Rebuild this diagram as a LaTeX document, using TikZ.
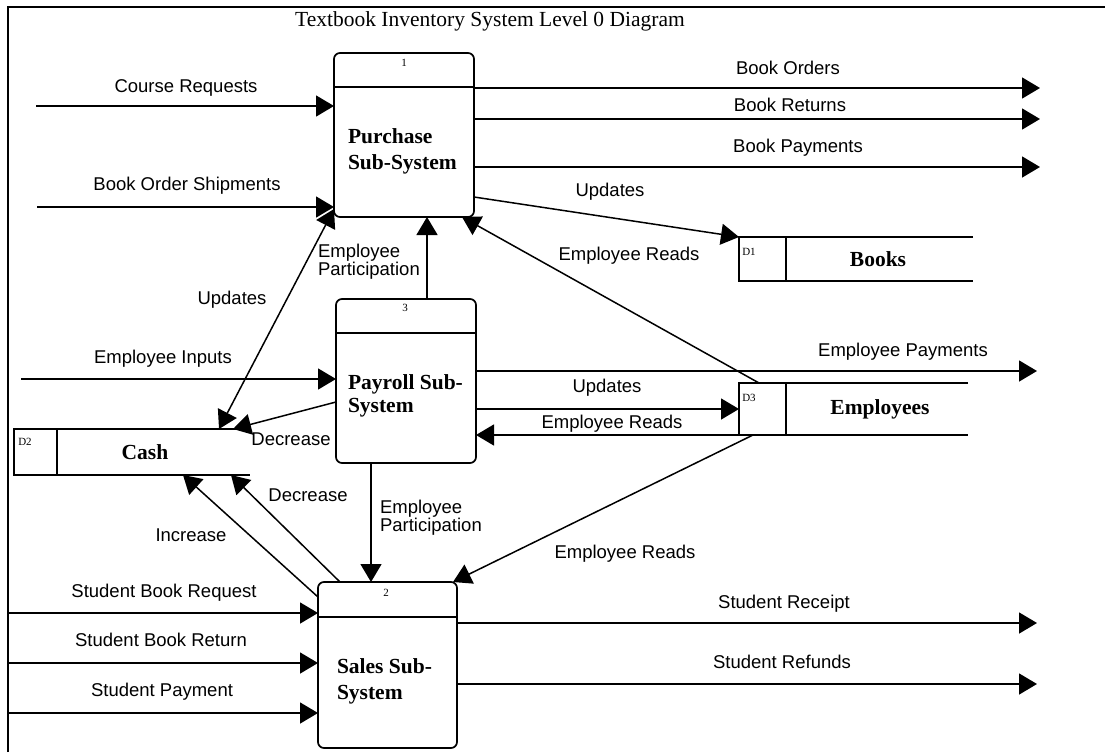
\documentclass[tikz,border=0pt]{standalone}
\usepackage{fontspec}
\setmainfont{Liberation Serif}
\newfontfamily\labfont{Liberation Sans}
\usetikzlibrary{arrows.meta,calc}
\begin{document}
\begin{tikzpicture}[x=1pt,y=-1pt,
  every node/.style={inner sep=0pt,outer sep=0pt},
  proc/.style={draw,line width=1.7pt,rounded corners=6pt},
  lab/.style={font=\labfont\fontsize{18.5}{17}\selectfont},
  pname/.style={font=\bfseries\fontsize{21.5}{26}\selectfont,align=left,anchor=west},
  sname/.style={font=\bfseries\fontsize{21.5}{25}\selectfont},
  num/.style={font=\fontsize{11}{11}\selectfont},
  flow/.style={line width=1.5pt,-{Triangle[length=18pt,width=21pt]}},
  flow2/.style={line width=1.5pt,{Triangle[length=18pt,width=21pt]}-{Triangle[length=18pt,width=21pt]}},
  line/.style={line width=1.7pt}]
\useasboundingbox (0,0) rectangle (1105,752);
\fill[white] (0,0) rectangle (1105,752);
% frame
\draw[line width=1.2pt] (8,752) -- (8,7) -- (1105,7);
\node[font=\fontsize{21.5}{22}\selectfont] (title) at (490,21) {Textbook Inventory System Level 0 Diagram};

% processes
\node[proc,minimum width=140pt,minimum height=164pt] (p1) at (404,135) {};
\draw[line] (p1.west |- 0,87) -- (p1.east |- 0,87);
\node[num] (n1) at (404,63) {1};
\node[pname] (t1) at (348,151) {Purchase\\Sub-System};

\node[proc,minimum width=140pt,minimum height=164pt] (p3) at (406,381) {};
\draw[line] (p3.west |- 0,333) -- (p3.east |- 0,333);
\node[num] (n3) at (405,308) {3};
\node[pname,font=\bfseries\fontsize{21.5}{23}\selectfont] (t3) at (348,396) {Payroll Sub-\\System};

\node[proc,minimum width=139pt,minimum height=166pt] (p2) at (387.5,665) {};
\draw[line] (p2.west |- 0,617) -- (p2.east |- 0,617);
\node[num] (n2) at (386,593) {2};
\node[pname] (t2) at (337,681) {Sales Sub-\\System};

% data stores
\node[minimum width=234pt,minimum height=44pt] (d1) at (856,259) {};
\draw[line] (d1.north east) -- (d1.north west) -- (d1.south west) -- (d1.south east);
\draw[line] ([xshift=47pt]d1.north west) -- ([xshift=47pt]d1.south west);
\node[num] (d1n) at (749,252) {D1};
\node[sname] (d1t) at (878,259) {Books};

\node[minimum width=229pt,minimum height=52pt] (d3) at (853.5,409) {};
\draw[line] (d3.north east) -- (d3.north west) -- (d3.south west) -- (d3.south east);
\draw[line] ([xshift=47pt]d3.north west) -- ([xshift=47pt]d3.south west);
\node[num] (d3n) at (749,398) {D3};
\node[sname] (d3t) at (880,409) {Employees};

\node[minimum width=236pt,minimum height=46pt] (d2) at (132,452) {};
\draw[line] (d2.north east) -- (d2.north west) -- (d2.south west) -- (d2.south east);
\draw[line] ([xshift=43pt]d2.north west) -- ([xshift=43pt]d2.south west);
\node[num] (d2n) at (25,442) {D2};
\node[sname] (d2t) at (145,452) {Cash};

% free ends
\coordinate (cr) at (36,106);
\coordinate (bos) at (37,207);
\coordinate (bo) at (1040,88);
\coordinate (br) at (1040,119);
\coordinate (bp) at (1040,167);
\coordinate (ei) at (21,379);
\coordinate (ep) at (1037,371);
\coordinate (sbq) at (9,613);
\coordinate (sbr) at (9,663);
\coordinate (sp) at (9,713);
\coordinate (sr) at (1037,623);
\coordinate (sf) at (1037,684);

% purchase flows
\draw[flow] (cr) -- (cr -| p1.west);
\node[lab] (l1) at (186,88) {Course Requests};
\draw[flow] (bos) -- (bos -| p1.west);
\node[lab] (l2) at (187,186) {Book Order Shipments};
\draw[flow] (p1.east |- bo) -- (bo);
\node[lab] (l3) at (788,68) {Book Orders};
\draw[flow] (p1.east |- br) -- (br);
\node[lab] (l4) at (790,105) {Book Returns};
\draw[flow] (p1.east |- bp) -- (bp);
\node[lab] (l5) at (798,148) {Book Payments};
\draw[flow] ([yshift=20pt]p1.south east) -- (d1.north west);
\node[lab] (l6) at (610,192) {Updates};
\draw[flow] ([xshift=20pt]d3.north west) -- ([xshift=-12pt]p1.south east);
\node[lab] (l7) at (629,256) {Employee Reads};
\draw[flow2] ([yshift=8pt]p1.south west) -- ([xshift=205pt]d2.north west);
\node[lab] (l8) at (232,300) {Updates};
\draw[flow] ([xshift=21pt]p3.north) -- ([xshift=23pt]p1.south);
\node[lab,align=left,anchor=west] (l9) at (318,262) {Employee\\Participation};

% payroll flows
\draw[flow] (ei) -- (ei -| p3.west);
\node[lab] (l10) at (163,359) {Employee Inputs};
\draw[flow] ([yshift=-21pt]p3.west) -- ([xshift=219pt]d2.north west);
\node[lab] (l11) at (291,439) {Decrease};
\draw[flow] (p3.east |- ep) -- (ep);
\node[lab] (l12) at (903,352) {Employee Payments};
\draw[flow] (p3.east |- d3.west) -- (d3.west);
\node[lab] (l13) at (607,388) {Updates};
\draw[flow] (d3.south west) -- (p3.east |- d3.south west);
\node[lab] (l14) at (612,424) {Employee Reads};
\draw[flow] ([xshift=14pt]d3.south west) -- ([xshift=-4pt]p2.north east);
\node[lab] (l15) at (625,554) {Employee Reads};
\draw[flow] ([xshift=-35pt]p3.south) -- ([xshift=-16.5pt]p2.north);
\node[lab,align=left,anchor=west] (l16) at (380,518) {Employee\\Participation};

% sales flows
\draw[flow] ([yshift=-15pt]p2.north west) -- ([xshift=169pt]d2.south west);
\node[lab] (l17) at (191,535) {Increase};
\draw[flow] ([xshift=22pt]p2.north west) -- ([xshift=217pt]d2.south west);
\node[lab] (l18) at (308,495) {Decrease};
\draw[flow] (sbq) -- (sbq -| p2.west);
\node[lab] (l19) at (164,593) {Student Book Request};
\draw[flow] (sbr) -- (sbr -| p2.west);
\node[lab] (l20) at (161,640) {Student Book Return};
\draw[flow] (sp) -- (sp -| p2.west);
\node[lab] (l21) at (162,692) {Student Payment};
\draw[flow] (p2.east |- sr) -- (sr);
\node[lab] (l22) at (784,604) {Student Receipt};
\draw[flow] (p2.east |- sf) -- (sf);
\node[lab] (l23) at (782,662) {Student Refunds};
\end{tikzpicture}
\end{document}
